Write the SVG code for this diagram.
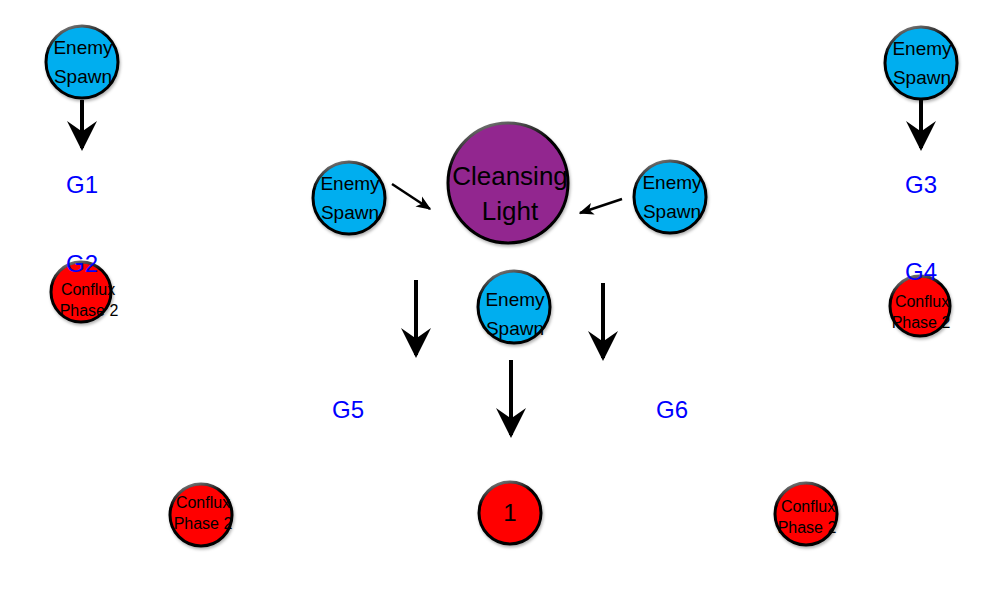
<svg xmlns="http://www.w3.org/2000/svg" width="1000" height="600" viewBox="0 0 1000 600">
<style>
.n{stroke:url(#rim);stroke-width:3;filter:url(#sh)}
.blue{fill:#00AEEF}
.red{fill:#FF0000}
.pur{fill:#92278F}
.t{font-family:"Liberation Sans",Arial,sans-serif;fill:#000;text-anchor:middle}
.s{font-size:19px}
.c{font-size:16px}
.g{font-family:"Liberation Sans",Arial,sans-serif;fill:#0000FF;font-size:24px;text-anchor:middle}
.a{stroke:#000;stroke-width:4;fill:none}
.a2{stroke:#000;stroke-width:2.5;fill:none}
</style>
<defs>
<linearGradient id="rim" x1="0" y1="0" x2="0.3" y2="1">
<stop offset="0" stop-color="#999"/>
<stop offset="0.35" stop-color="#000"/>
<stop offset="1" stop-color="#000"/>
</linearGradient>
<filter id="sh" x="-20%" y="-20%" width="140%" height="140%">
<feDropShadow dx="1" dy="2" stdDeviation="1.5" flood-color="#000" flood-opacity="0.3"/>
</filter>
<marker id="ah" viewBox="0 0 10 10" refX="9" refY="5" markerWidth="7.5" markerHeight="7.5" orient="auto" markerUnits="strokeWidth">
<path d="M0,0 L10,5 L0,10 L3.5,5 Z" fill="#000"/>
</marker>
<marker id="ah2" viewBox="0 0 10 10" refX="9" refY="5" markerWidth="6" markerHeight="6" orient="auto" markerUnits="strokeWidth">
<path d="M0,1 L10,5 L0,9 L2.5,5 Z" fill="#000"/>
</marker>
</defs>
<g id="connectors">
<line class="a" x1="82" y1="100" x2="82" y2="148" marker-end="url(#ah)"/>
<line class="a" x1="921" y1="100" x2="921" y2="148" marker-end="url(#ah)"/>
<line class="a2" x1="392" y1="184" x2="430" y2="209" marker-end="url(#ah2)"/>
<line class="a2" x1="622" y1="199" x2="580" y2="213" marker-end="url(#ah2)"/>
<line class="a" x1="416" y1="280" x2="416" y2="355" marker-end="url(#ah)"/>
<line class="a" x1="603" y1="283" x2="603" y2="358" marker-end="url(#ah)"/>
<line class="a" x1="511" y1="360" x2="511" y2="435" marker-end="url(#ah)"/>
</g>
<g id="spawn-tl"><circle class="n blue" cx="82" cy="62" r="36"/><text class="t s" x="83" y="54">Enemy</text><text class="t s" x="83" y="83">Spawn</text></g>
<g id="spawn-tr"><circle class="n blue" cx="921" cy="63" r="36"/><text class="t s" x="922" y="55">Enemy</text><text class="t s" x="922" y="84">Spawn</text></g>
<g id="spawn-ml"><circle class="n blue" cx="349" cy="198" r="36"/><text class="t s" x="350" y="190">Enemy</text><text class="t s" x="350" y="219">Spawn</text></g>
<g id="spawn-mr"><circle class="n blue" cx="670" cy="197" r="36"/><text class="t s" x="672" y="189">Enemy</text><text class="t s" x="672" y="218">Spawn</text></g>
<g id="spawn-c"><circle class="n blue" cx="514" cy="307" r="36"/><text class="t s" x="515" y="306">Enemy</text><text class="t s" x="515" y="335">Spawn</text></g>
<g id="cleansing"><circle class="n pur" cx="508" cy="183" r="60"/><text class="t" style="font-size:26px" x="510" y="185">Cleansing</text><text class="t" style="font-size:26px" x="510" y="220">Light</text></g>
<g id="g1"><text class="g" x="82" y="193">G1</text></g>
<g id="g3"><text class="g" x="921" y="193">G3</text></g>
<g id="conflux-l"><circle class="n red" cx="81" cy="292" r="30"/><text class="t c" x="88" y="295">Conflux</text><text class="t c" x="89" y="316">Phase 2</text></g>
<g id="g2"><text class="g" x="82" y="272">G2</text></g>
<g id="conflux-r"><circle class="n red" cx="920" cy="306" r="30"/><text class="t c" x="922" y="307">Conflux</text><text class="t c" x="921" y="328">Phase 2</text></g>
<g id="g4"><text class="g" x="921" y="280">G4</text></g>
<g id="g5"><text class="g" x="348" y="418">G5</text></g>
<g id="g6"><text class="g" x="672" y="418">G6</text></g>
<g id="conflux-bl"><circle class="n red" cx="201" cy="515" r="31"/><text class="t c" x="203" y="508">Conflux</text><text class="t c" x="203" y="529">Phase 2</text></g>
<g id="one"><circle class="n red" cx="510" cy="513" r="31"/><text class="t" style="font-size:24px" x="510" y="521">1</text></g>
<g id="conflux-br"><circle class="n red" cx="806" cy="514" r="31"/><text class="t c" x="808" y="512">Conflux</text><text class="t c" x="807" y="533">Phase 2</text></g>
</svg>
